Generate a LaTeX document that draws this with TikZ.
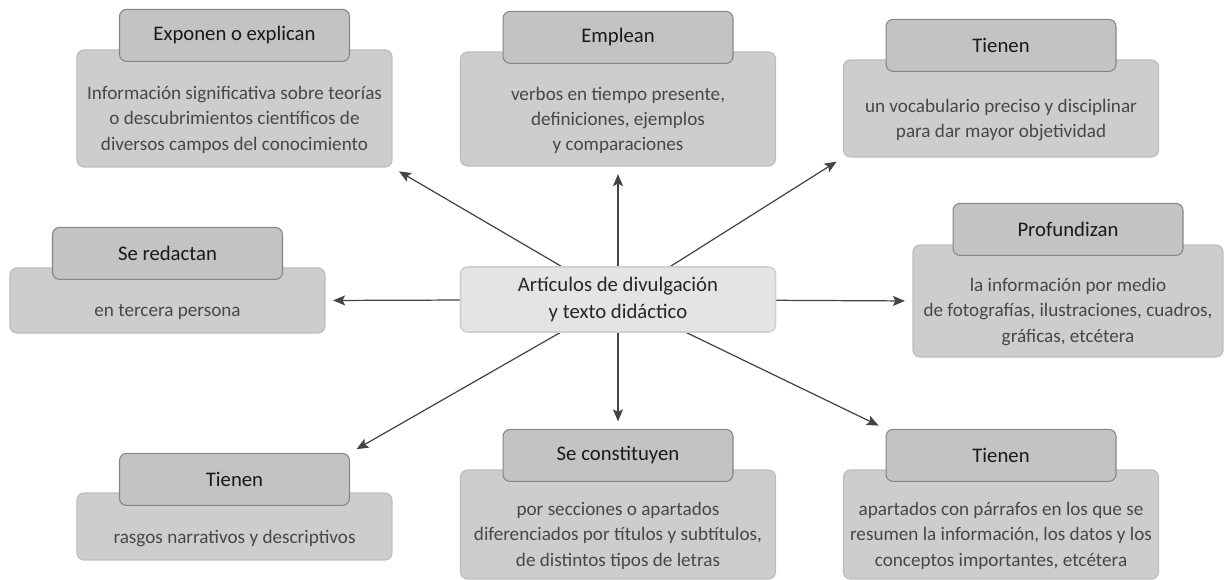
\documentclass[tikz,border=0pt]{standalone}
\usepackage{fontspec}
\setmainfont{Carlito}
\usetikzlibrary{arrows.meta,positioning,calc,backgrounds}
\definecolor{Ink}{HTML}{444444}
\definecolor{BodyFill}{HTML}{CDCDCD}
\definecolor{BodyLine}{HTML}{BDBDBD}
\definecolor{TagFill}{HTML}{C3C3C3}
\definecolor{TagLine}{HTML}{858585}
\definecolor{HubFill}{HTML}{E4E4E4}
\definecolor{HubLine}{HTML}{D0D0D0}
\tikzset{
 box/.style={draw=BodyLine,fill=BodyFill,rounded corners=4pt,line width=0.7pt,minimum width=6.3cm},
 tag/.style={draw=TagLine,fill=TagFill,rounded corners=4pt,line width=0.6pt,minimum width=4.6cm,minimum height=1.04cm,font=\fontsize{11.8}{13}\selectfont,text=black!90},
 note/.style={align=center,font=\fontsize{10.9}{14.4}\selectfont,text=black!72,inner sep=0pt},
 hub/.style={draw=HubLine,fill=HubFill,rounded corners=4pt,line width=0.9pt,minimum width=6.3cm,minimum height=1.3cm,align=center,font=\fontsize{11.8}{15.2}\selectfont,text=black!85},
 arr/.style={-{Stealth[length=2.4mm,width=2mm,inset=0.5mm]},line width=0.7pt,draw=Ink}
}
\begin{document}
\begin{tikzpicture}[x=0.02cm,y=-0.02cm]
\useasboundingbox (0,0) rectangle (1224,580);
\node[box,minimum height=2.34cm] (b1) at (234.5,108.5) {};
\node[box,minimum height=2.28cm] (b2) at (618,109) {};
\node[box,minimum height=1.94cm] (b3) at (1001,108.5) {};
\node[box,minimum height=1.30cm] (b4) at (167.5,300.5) {};
\node[box,minimum height=2.24cm,minimum width=6.2cm] (b5) at (1068,301) {};
\node[box,minimum height=1.34cm] (b6) at (234.5,526.5) {};
\node[box,minimum height=2.18cm] (b7) at (618,524.5) {};
\node[box,minimum height=2.18cm] (b8) at (1001,524.5) {};
\node[hub] (c) at (618,299.5) {Artículos de divulgación\\y texto didáctico};
\node[tag] (h1) at ([yshift=0.28cm]b1.north) {Exponen o explican};
\node[tag] (h2) at ([yshift=0.28cm]b2.north) {Emplean};
\node[tag] (h3) at ([yshift=0.28cm]b3.north) {Tienen};
\node[tag] (h4) at ([yshift=0.28cm]b4.north) {Se redactan};
\node[tag] (h5) at ([yshift=0.3cm]b5.north) {Profundizan};
\node[tag] (h6) at ([yshift=0.26cm]b6.north) {Tienen};
\node[tag] (h7) at ([yshift=0.28cm]b7.north) {Se constituyen};
\node[tag] (h8) at ([yshift=0.28cm]b8.north) {Tienen};
\node[note] (t1) at ($(h1.south)!0.5!(b1.south)+(0,5)$) {Información significativa sobre teorías\\o descubrimientos científicos de\\diversos campos del conocimiento};
\node[note] (t2) at ($(h2.south)!0.5!(b2.south)+(0,5)$) {verbos en tiempo presente,\\definiciones, ejemplos\\y comparaciones};
\node[note] (t3) at ($(h3.south)!0.5!(b3.south)+(0,5)$) {un vocabulario preciso y disciplinar\\para dar mayor objetividad};
\node[note] (t4) at ($(h4.south)!0.5!(b4.south)+(0,5)$) {en tercera persona};
\node[note] (t5) at ($(h5.south)!0.5!(b5.south)+(0,5)$) {la información por medio\\de fotografías, ilustraciones, cuadros,\\gráficas, etcétera};
\node[note] (t6) at ($(h6.south)!0.5!(b6.south)+(0,5)$) {rasgos narrativos y descriptivos};
\node[note] (t7) at ($(h7.south)!0.5!(b7.south)+(0,5)$) {por secciones o apartados\\diferenciados por títulos y subtítulos,\\de distintos tipos de letras};
\node[note] (t8) at ($(h8.south)!0.5!(b8.south)+(0,5)$) {apartados con párrafos en los que se\\resumen la información, los datos y los\\conceptos importantes, etcétera};
\begin{scope}[on background layer]
\foreach \y in {b1.south east,b2.south,b3.south west,b4.east,b5.west,h6.north east,h7.north,h8.north west}
  \draw[arr,shorten >=1.5mm] (c.center)--(\y);
\end{scope}
\end{tikzpicture}
\end{document}
